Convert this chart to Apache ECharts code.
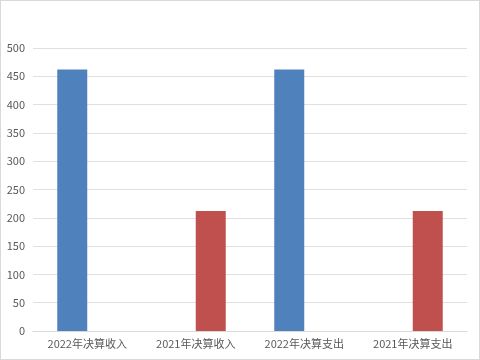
<!DOCTYPE html>
<html><head><meta charset="utf-8">
<script src="https://cdn.jsdelivr.net/npm/echarts@6/dist/echarts.min.js"></script>
<style>html,body{margin:0;padding:0;background:#fff}#c{width:478px;height:358px;border:1px solid #d9d9d9}</style>
</head><body><div id="c"></div>
<script>
const categories = ['2022年决算收入','2021年决算收入','2022年决算支出','2021年决算支出'];
const values2022 = [462, '-', 462, '-'];
const values2021 = ['-', 212, '-', 212];
const yTicks = {min: 0, max: 500, interval: 50};
const chart = echarts.init(document.getElementById('c'));
chart.setOption({
  animation: false,
  grid: {left: 32, right: 12, top: 47, bottom: 28},
  xAxis: {type: 'category', data: categories,
    axisLine: {lineStyle: {color: '#d9d9d9'}}, axisTick: {show: false},
    axisLabel: {color: '#595959', fontSize: 11, fontFamily: 'Noto Sans CJK SC', margin: 7}},
  yAxis: {type: 'value', min: yTicks.min, max: yTicks.max, interval: yTicks.interval,
    axisLine: {show: false}, axisTick: {show: false},
    splitLine: {lineStyle: {color: '#e0e0e0'}},
    axisLabel: {color: '#595959', fontSize: 11, fontFamily: 'Noto Sans CJK SC', margin: 8}},
  series: [
    {name: '2022', type: 'bar', data: values2022, barWidth: 30, barGap: '0%', itemStyle: {color: '#4f81bd'}},
    {name: '2021', type: 'bar', data: values2021, barWidth: 30, barGap: '0%', itemStyle: {color: '#c0504d'}}
  ]
});
</script></body></html>
